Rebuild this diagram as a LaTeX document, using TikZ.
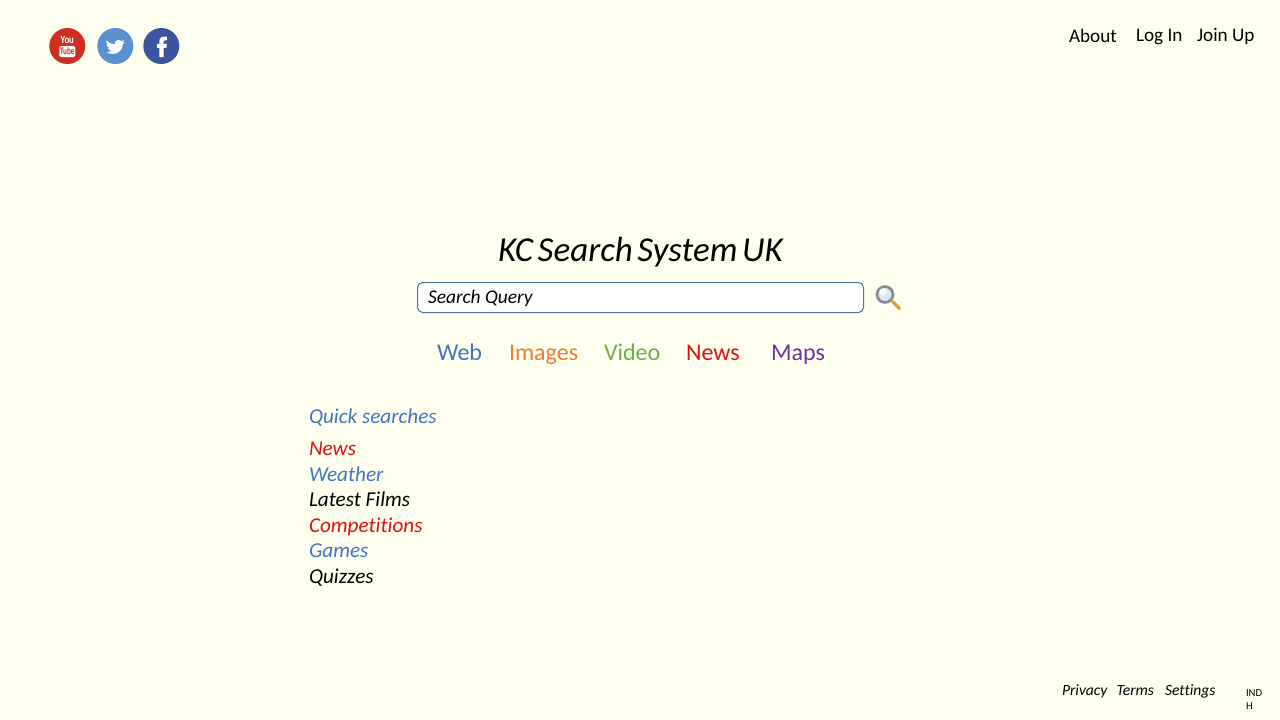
\documentclass[tikz,border=0pt]{standalone}
\usepackage{fontspec}
\setmainfont{Carlito}[Ligatures=NoCommon]
\definecolor{bgc}{HTML}{FFFFF0}
\definecolor{cblue}{HTML}{4472C4}
\definecolor{corange}{HTML}{ED7D31}
\definecolor{cgreen}{HTML}{70AD47}
\definecolor{cred}{HTML}{E01010}
\definecolor{cpurple}{HTML}{7030A0}
\definecolor{boxline}{HTML}{4A7298}
\definecolor{ytred}{HTML}{CF2E22}
\definecolor{twblue}{HTML}{5A8FD0}
\definecolor{fbblue}{HTML}{3B559F}
\definecolor{ringc}{HTML}{7F8A94}
\definecolor{lensc}{HTML}{DCE6EE}
\definecolor{handlec}{HTML}{E89A3C}
\tikzset{
  x=1pt,y=-1pt,
  lbl/.style={anchor=base west,inner sep=0pt,outer sep=0pt},
  navlbl/.style={lbl,font=\fontsize{24}{24}\selectfont},
  toplbl/.style={lbl,font=\fontsize{19.2}{19.2}\selectfont},
  quick/.style={lbl,font=\fontsize{21.2}{21.2}\selectfont\itshape},
  foot/.style={lbl,font=\fontsize{15.6}{15.6}\selectfont\itshape},
  iconc/.style={circle,minimum size=36pt,inner sep=0pt}
}
\begin{document}
\begin{tikzpicture}
\useasboundingbox (0,0) rectangle (1280,720);
\fill[bgc] (0,0) rectangle (1280,720);
% social icons
\node[iconc,fill=ytred] (yt) at (67.3,46) {};
\node[inner sep=0pt,text=white,font=\fontsize{11}{11}\selectfont\bfseries] (yttop) at (67.3,39.8) {\scalebox{0.8}[1]{You}};
\node[fill=white,rounded corners=1.5pt,inner sep=0pt,minimum width=16pt,minimum height=11pt] (ytbox) at (67.3,51.5) {};
\node[inner sep=0pt,text=ytred,font=\fontsize{10}{10}\selectfont\bfseries] (ytlbl) at (67.3,51.5) {\scalebox{0.72}[1]{Tube}};
\node[iconc,fill=twblue] (tw) at (115.3,46) {};
\begin{scope}[shift={(115.3,46.5)},scale=0.78,shift={(-115,-47)}]
\fill[white] (103.5,39) .. controls (106.5,42.5) and (110,44) .. (114,44.3)
  .. controls (113.5,39.5) and (119.5,36.5) .. (122.5,40)
  -- (126,38.8) -- (124.3,42) -- (127,41.3) -- (124.8,44)
  .. controls (125,51) and (118,57.5) .. (110.5,56.5)
  .. controls (108,56.3) and (105.5,55.5) .. (103.5,54)
  .. controls (106,54.3) and (108.5,53.5) .. (110,52.2)
  .. controls (107.5,52) and (106,50.5) .. (105.3,49)
  -- (107.6,48.8)
  .. controls (105,48) and (103.7,46) .. (103.8,43.7)
  -- (106,44.4)
  .. controls (103.5,43) and (102.8,41) .. (103.5,39) -- cycle;
\end{scope}
\node[iconc,fill=fbblue] (fb) at (161.3,46) {};
\begin{scope}[shift={(161.8,46.8)},scale=0.88,shift={(-161,-46.3)}]
\fill[white] (158.2,58) -- (158.2,47.5) -- (155.3,47.5) -- (155.3,43) -- (158.2,43) -- (158.2,40)
  .. controls (158.2,36) and (161,34) .. (166.7,34.6) -- (166.7,38.8)
  .. controls (163.5,38.5) and (163,39.3) .. (163,41) -- (163,43) -- (166.7,43) -- (166.2,47.5) -- (163,47.5) -- (163,58) -- cycle;
\end{scope}
% top links
\node[toplbl] (about) at (1069,42) {About};
\node[toplbl] (login) at (1136,41.5) {Log In};
\node[toplbl] (join) at (1197,41.5) {Join Up};
% title
\node[lbl,font=\fontsize{35}{35}\selectfont\itshape] (title) at (498,261.5) {\spaceskip=4.6pt\relax KC Search System UK};
% search box
\draw[boxline,fill=white,line width=1pt,rounded corners=5pt] (417.5,282.5) rectangle (863.5,312.5);
\node[lbl,font=\fontsize{19.4}{19.4}\selectfont\itshape] (query) at (428,303) {Search Query};
% magnifier
\draw[line cap=round,line width=3.4pt,handlec] (892.5,301.5) -- (899.5,308.5);
\draw[line width=2.6pt,ringc,fill=lensc] (885,294.5) circle (8);
\fill[white,opacity=0.8] (883,292) circle (3.8);
% nav
\node[navlbl,text=cblue] (web) at (437,360) {Web};
\node[navlbl,text=corange] (images) at (509,360) {Images};
\node[navlbl,text=cgreen] (video) at (604,360) {Video};
\node[navlbl,text=cred] (news) at (686,360) {News};
\node[navlbl,text=cpurple] (maps) at (771,360) {Maps};
% quick searches
\node[quick,text=cblue] (qs) at (309,423) {Quick searches};
\node[quick,text=cred] (q1) at (309,455) {News};
\node[quick,text=cblue] (q2) at (309,481) {Weather};
\node[quick] (q3) at (309,506) {Latest Films};
\node[quick,text=cred] (q4) at (309,532) {Competitions};
\node[quick,text=cblue] (q5) at (309,557) {Games};
\node[quick] (q6) at (309,583) {Quizzes};
% footer
\node[foot] (priv) at (1062,695) {Privacy};
\node[foot] (terms) at (1116.5,695) {Terms};
\node[foot] (sett) at (1165,695) {Settings};
\node[lbl,font=\fontsize{10.7}{10.7}\selectfont] (ind1) at (1246,696) {IND};
\node[lbl,font=\fontsize{10.7}{10.7}\selectfont] (ind2) at (1246,709) {H};
\end{tikzpicture}
\end{document}
